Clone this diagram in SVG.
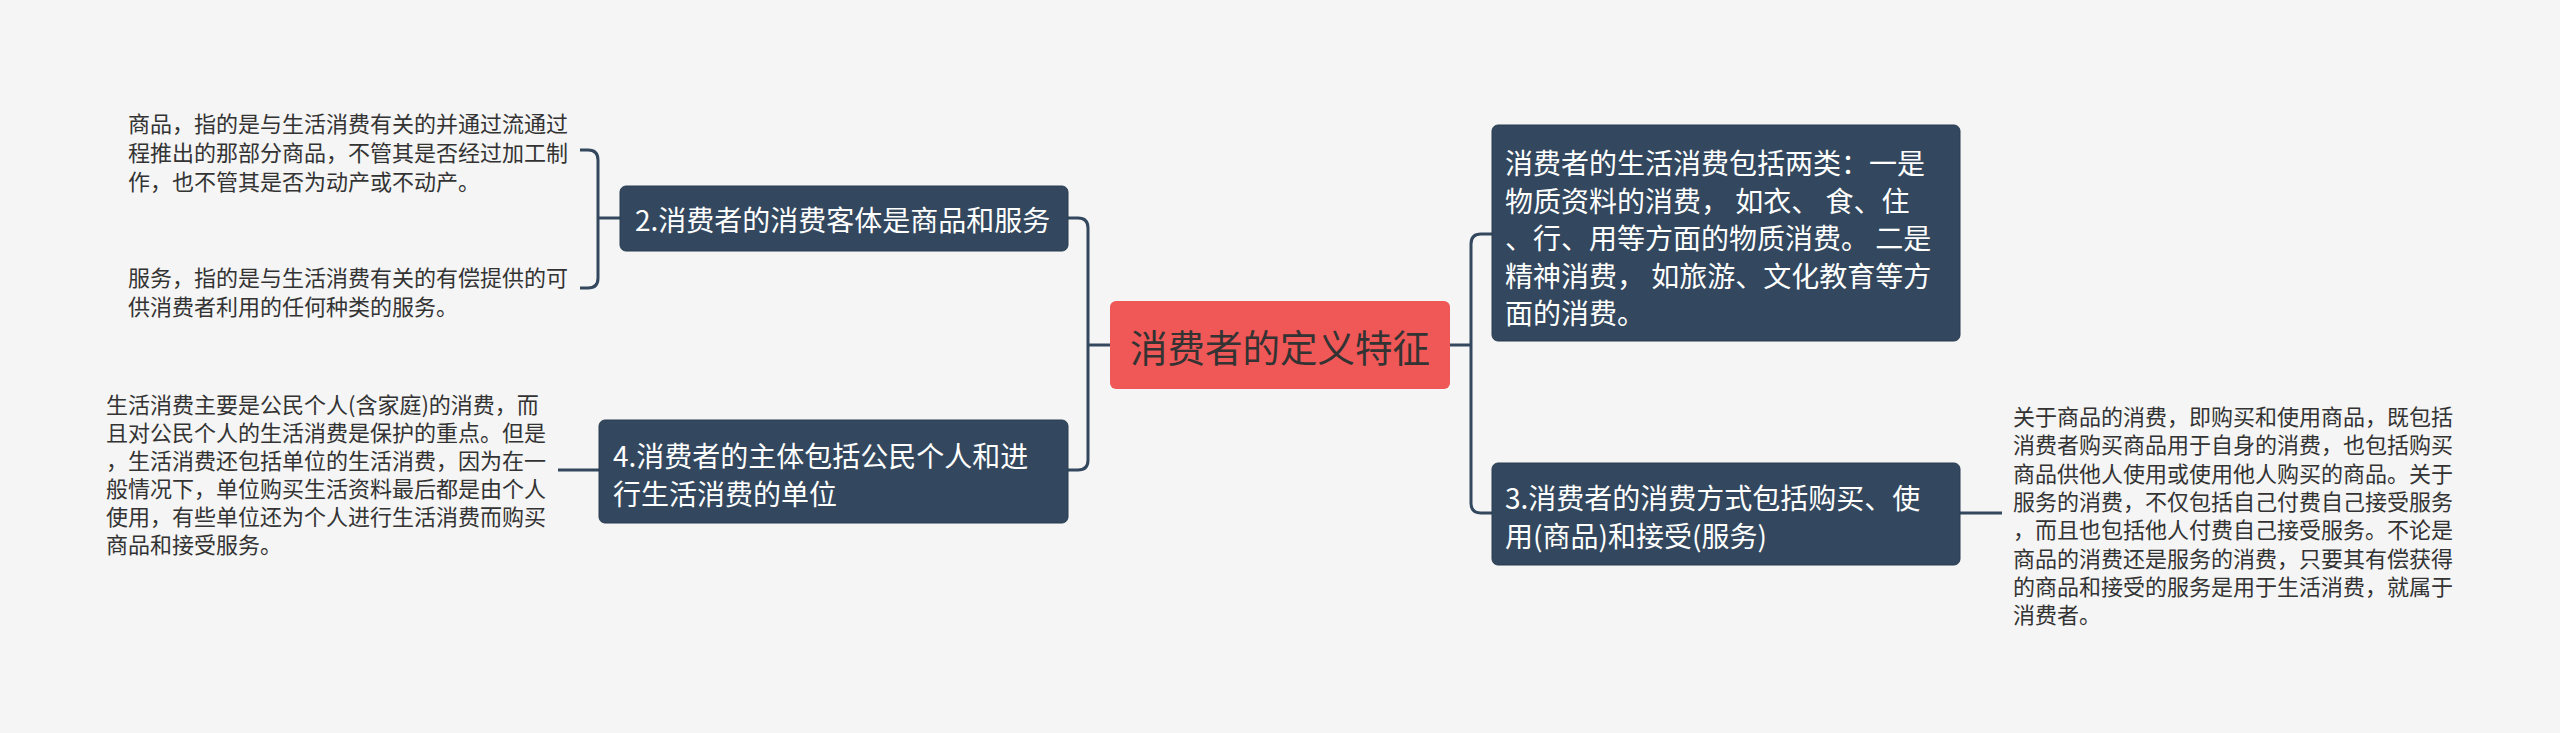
<svg xmlns="http://www.w3.org/2000/svg" width="2560" height="733" viewBox="0 0 2560 733">
<style>
.bg{fill:#f5f5f5}
.node rect{fill:#33485e;stroke:#2a3d50;stroke-width:1}
.node text{fill:#ffffff;font-family:"Noto Sans CJK SC","Noto Sans",sans-serif;font-size:28px;dominant-baseline:central}
.root rect{fill:#f05757}
.root text{fill:#333333;font-family:"Noto Sans CJK SC","Noto Sans",sans-serif;font-size:37.5px;dominant-baseline:central;text-anchor:middle}
.leaf text{fill:#333333;font-family:"Noto Sans CJK SC","Noto Sans",sans-serif;font-size:22px;dominant-baseline:central}
.conn path{fill:none;stroke:#33485e;stroke-width:3}
</style>
<rect class="bg" x="0" y="0" width="2560" height="733"/>
<g class="conn" id="connectors">
<path d="M1110,345 H1088"/>
<path d="M1068,218 H1078 Q1088,218 1088,228 V460 Q1088,470 1078,470 H1068"/>
<path d="M1450,345 H1471"/>
<path d="M1492,234 H1481 Q1471,234 1471,244 V503 Q1471,513 1481,513 H1492"/>
<path d="M620,218 H598"/>
<path d="M580,150 H588 Q598,150 598,160 V278 Q598,288 588,288 H580"/>
<path d="M599,470 H558"/>
<path d="M1960,513 H2002"/>
</g>
<g class="root" id="root">
<rect x="1110" y="301" width="340" height="88" rx="6"/>
<text x="1280" y="345">消费者的定义特征</text>
</g>
<g class="node" id="n2">
<rect x="620" y="186" width="448" height="65" rx="6"/>
<text x="635" y="219">2.消费者的消费客体是商品和服务</text>
</g>
<g class="node" id="n4">
<rect x="599" y="420" width="469" height="103" rx="6"/>
<text x="613" y="455">4.消费者的主体包括公民个人和进</text>
<text x="613" y="493">行生活消费的单位</text>
</g>
<g class="node" id="n1">
<rect x="1492" y="125" width="468" height="216" rx="6"/>
<text x="1505" y="162">消费者的生活消费包括两类：一是</text>
<text x="1505" y="199.5">物质资料的消费， 如衣、 食、住</text>
<text x="1505" y="237">、行、用等方面的物质消费。 二是</text>
<text x="1505" y="274.5">精神消费， 如旅游、文化教育等方</text>
<text x="1505" y="312">面的消费。</text>
</g>
<g class="node" id="n3">
<rect x="1492" y="463" width="468" height="102" rx="6"/>
<text x="1505" y="497">3.消费者的消费方式包括购买、使</text>
<text x="1505" y="535">用(商品)和接受(服务)</text>
</g>
<g class="leaf" id="l2a">
<text x="128" y="122">商品，指的是与生活消费有关的并通过流通过</text>
<text x="128" y="151">程推出的那部分商品，不管其是否经过加工制</text>
<text x="128" y="180">作，也不管其是否为动产或不动产。</text>
</g>
<g class="leaf" id="l2b">
<text x="128" y="276">服务，指的是与生活消费有关的有偿提供的可</text>
<text x="128" y="305">供消费者利用的任何种类的服务。</text>
</g>
<g class="leaf" id="l4">
<text x="106" y="403">生活消费主要是公民个人(含家庭)的消费，而</text>
<text x="106" y="431">且对公民个人的生活消费是保护的重点。但是</text>
<text x="106" y="459">，生活消费还包括单位的生活消费，因为在一</text>
<text x="106" y="487">般情况下，单位购买生活资料最后都是由个人</text>
<text x="106" y="515">使用，有些单位还为个人进行生活消费而购买</text>
<text x="106" y="543">商品和接受服务。</text>
</g>
<g class="leaf" id="l3">
<text x="2013" y="415">关于商品的消费，即购买和使用商品，既包括</text>
<text x="2013" y="443">消费者购买商品用于自身的消费，也包括购买</text>
<text x="2013" y="471.5">商品供他人使用或使用他人购买的商品。关于</text>
<text x="2013" y="500">服务的消费，不仅包括自己付费自己接受服务</text>
<text x="2013" y="528">，而且也包括他人付费自己接受服务。不论是</text>
<text x="2013" y="556.5">商品的消费还是服务的消费，只要其有偿获得</text>
<text x="2013" y="585">的商品和接受的服务是用于生活消费，就属于</text>
<text x="2013" y="613">消费者。</text>
</g>
</svg>
